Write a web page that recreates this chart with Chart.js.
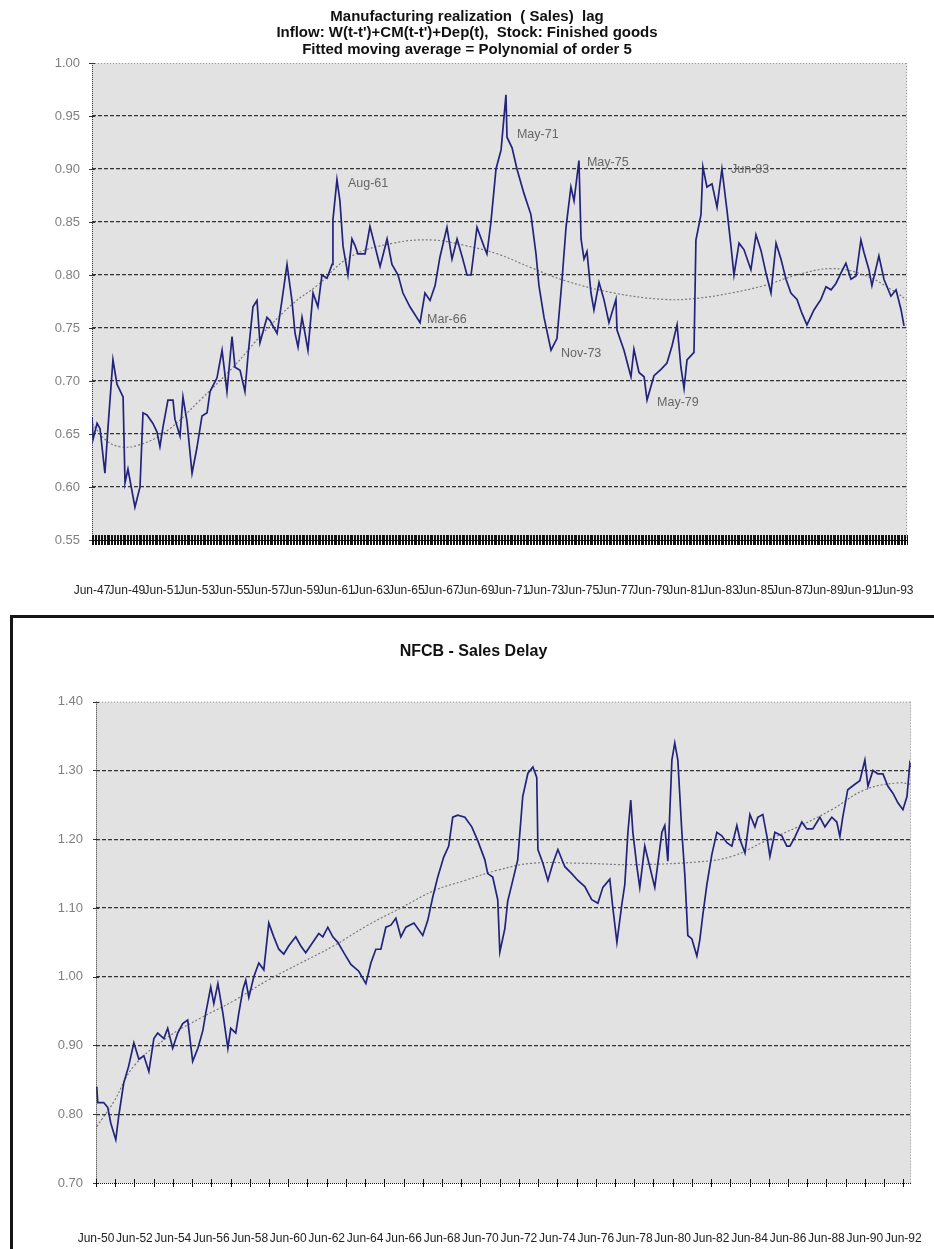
<!DOCTYPE html>
<html>
<head>
<meta charset="utf-8">
<title>Manufacturing realization / NFCB sales delay</title>
<script src="https://cdn.jsdelivr.net/npm/chart.js@4.4.1/dist/chart.umd.min.js"></script>
<style>
  html, body { margin: 0; padding: 0; background: #fff; overflow: hidden; }
  body { position: relative; width: 934px; height: 1249px; }
  #realizationChart { position: absolute; left: 0; top: 0; }
  #frame { position: absolute; left: 10px; top: 615px; width: 960px; height: 700px;
           border-left: 3px solid #151515; border-top: 3px solid #151515; }
  #delayChart { position: absolute; left: 13px; top: 618px; }
</style>
</head>
<body>
<canvas id="realizationChart" width="934" height="612"></canvas>
<div id="frame"></div>
<canvas id="delayChart" width="921" height="631"></canvas>
<script>
// Manufacturing realization (sales) lag, readings by decimal year
const realizationYears = [
  1947.49, 1947.55, 1947.78, 1947.95, 1948.23, 1948.41, 1948.69, 1948.92, 1949.27, 1949.38,
  1949.55, 1949.95, 1950.24, 1950.41, 1950.64, 1950.98, 1951.21, 1951.38, 1951.56, 1951.84,
  1952.13, 1952.24, 1952.53, 1952.70, 1952.93, 1953.22, 1953.50, 1953.79, 1954.08, 1954.25,
  1954.65, 1954.94, 1955.22, 1955.51, 1955.68, 1955.97, 1956.25, 1956.43, 1956.71, 1956.94,
  1957.11, 1957.51, 1957.69, 1958.09, 1958.37, 1958.66, 1958.94, 1959.12, 1959.29, 1959.52,
  1959.69, 1959.86, 1960.15, 1960.43, 1960.66, 1960.95, 1961.24, 1961.29, 1961.52, 1961.69,
  1961.87, 1962.15, 1962.38, 1962.55, 1962.72, 1963.13, 1963.41, 1963.70, 1963.99, 1964.39,
  1964.67, 1965.02, 1965.30, 1965.70, 1966.28, 1966.56, 1966.85, 1967.14, 1967.42, 1967.82,
  1968.11, 1968.40, 1968.68, 1968.97, 1969.20, 1969.54, 1969.94, 1970.11, 1970.34, 1970.63,
  1970.92, 1971.20, 1971.26, 1971.55, 1971.83, 1972.23, 1972.63, 1972.92, 1973.09, 1973.38,
  1973.78, 1974.12, 1974.41, 1974.64, 1974.92, 1975.10, 1975.38, 1975.50, 1975.67, 1975.84,
  1976.07, 1976.24, 1976.53, 1976.81, 1977.10, 1977.50, 1977.56, 1977.96, 1978.36, 1978.53,
  1978.82, 1979.11, 1979.28, 1979.68, 1980.08, 1980.42, 1980.71, 1981.00, 1981.22, 1981.40,
  1981.57, 1981.97, 1982.08, 1982.37, 1982.48, 1982.71, 1983.00, 1983.29, 1983.57, 1983.86,
  1984.09, 1984.26, 1984.55, 1984.83, 1985.23, 1985.52, 1985.81, 1986.09, 1986.38, 1986.67,
  1986.95, 1987.24, 1987.52, 1987.87, 1988.15, 1988.44, 1988.84, 1989.24, 1989.53, 1989.82,
  1990.10, 1990.39, 1990.67, 1990.96, 1991.25, 1991.53, 1991.71, 1991.99, 1992.16, 1992.56,
  1992.85, 1993.25, 1993.54, 1993.82, 1994.00
];
const realizationValues = [
  0.666, 0.645, 0.660, 0.655, 0.613, 0.657, 0.720, 0.697, 0.685, 0.604,
  0.617, 0.581, 0.600, 0.670, 0.668, 0.660, 0.652, 0.638, 0.657, 0.682,
  0.682, 0.664, 0.648, 0.685, 0.662, 0.613, 0.637, 0.667, 0.670, 0.690,
  0.703, 0.729, 0.690, 0.742, 0.713, 0.710, 0.690, 0.725, 0.770, 0.776,
  0.736, 0.760, 0.757, 0.745, 0.776, 0.810, 0.776, 0.745, 0.732, 0.760,
  0.745, 0.729, 0.783, 0.770, 0.800, 0.797, 0.810, 0.852, 0.890, 0.870,
  0.827, 0.800, 0.834, 0.828, 0.820, 0.820, 0.846, 0.827, 0.808, 0.834,
  0.810, 0.800, 0.783, 0.770, 0.755, 0.783, 0.776, 0.790, 0.817, 0.845,
  0.815, 0.834, 0.818, 0.800, 0.800, 0.845, 0.827, 0.820, 0.850, 0.900,
  0.918, 0.970, 0.930, 0.920, 0.900, 0.877, 0.857, 0.820, 0.790, 0.760,
  0.729, 0.740, 0.795, 0.845, 0.883, 0.870, 0.908, 0.834, 0.815, 0.822,
  0.783, 0.767, 0.793, 0.777, 0.755, 0.777, 0.748, 0.729, 0.704, 0.730,
  0.708, 0.704, 0.682, 0.705, 0.711, 0.717, 0.733, 0.753, 0.713, 0.693,
  0.720, 0.727, 0.833, 0.857, 0.902, 0.883, 0.886, 0.864, 0.900, 0.861,
  0.827, 0.800, 0.830, 0.824, 0.805, 0.838, 0.823, 0.802, 0.783, 0.830,
  0.815, 0.796, 0.783, 0.777, 0.764, 0.753, 0.767, 0.777, 0.789, 0.786,
  0.792, 0.802, 0.811, 0.796, 0.799, 0.833, 0.821, 0.805, 0.790, 0.818,
  0.796, 0.780, 0.786, 0.768, 0.752
];
// fitted moving average (polynomial of order 5)
const realizationTrendYears = [
  1947.49, 1948.23, 1949.09, 1950.24, 1951.79, 1953.68, 1955.57, 1957.28, 1959.00, 1960.38,
  1962.27, 1964.73, 1967.02, 1968.80, 1970.69, 1972.63, 1974.52, 1977.39, 1980.25, 1982.14,
  1984.09, 1985.98, 1987.87, 1989.82, 1991.71, 1993.60, 1994.17
];
const realizationTrendValues = [
  0.660, 0.645, 0.638, 0.640, 0.653, 0.682, 0.713, 0.745, 0.773, 0.790,
  0.817, 0.830, 0.833, 0.828, 0.820, 0.807, 0.795, 0.783, 0.777, 0.778,
  0.783, 0.790, 0.800, 0.806, 0.800, 0.783, 0.776
];
// named turning points, each sitting on a realization reading
const turningPointLabels = ['Aug-61', 'Mar-66', 'May-71', 'Nov-73', 'May-75', 'May-79', 'Jun-83'];
const turningPointYears = [1961.52, 1966.28, 1971.20, 1973.78, 1975.38, 1979.28, 1983.57];
const turningPointValues = [0.890, 0.755, 0.970, 0.729, 0.908, 0.682, 0.900];

// NFCB sales delay
const delayYears = [
  1950.50, 1950.55, 1950.86, 1951.07, 1951.23, 1951.49, 1951.64, 1951.90, 1952.16, 1952.43,
  1952.69, 1952.95, 1953.21, 1953.47, 1953.67, 1953.99, 1954.19, 1954.45, 1954.71, 1954.97,
  1955.23, 1955.49, 1955.76, 1956.02, 1956.17, 1956.43, 1956.59, 1956.80, 1957.06, 1957.32,
  1957.47, 1957.73, 1957.89, 1958.10, 1958.25, 1958.41, 1958.67, 1958.93, 1959.19, 1959.45,
  1959.71, 1959.97, 1960.23, 1960.49, 1960.85, 1961.11, 1961.37, 1961.74, 1962.05, 1962.26,
  1962.52, 1962.78, 1963.04, 1963.35, 1963.72, 1964.13, 1964.50, 1964.76, 1965.02, 1965.28,
  1965.54, 1965.80, 1966.06, 1966.32, 1966.58, 1967.00, 1967.46, 1967.72, 1967.98, 1968.24,
  1968.55, 1968.81, 1969.02, 1969.28, 1969.65, 1970.01, 1970.32, 1970.69, 1970.84, 1971.10,
  1971.36, 1971.47, 1971.73, 1971.88, 1972.09, 1972.40, 1972.66, 1972.93, 1973.19, 1973.39,
  1973.45, 1973.71, 1973.97, 1974.23, 1974.49, 1974.85, 1975.21, 1975.53, 1975.89, 1976.25,
  1976.57, 1976.83, 1977.19, 1977.35, 1977.56, 1977.82, 1977.97, 1978.13, 1978.28, 1978.39,
  1978.60, 1978.75, 1979.01, 1979.27, 1979.53, 1979.90, 1980.05, 1980.21, 1980.42, 1980.57,
  1980.73, 1980.94, 1981.09, 1981.25, 1981.46, 1981.72, 1981.87, 1982.03, 1982.24, 1982.50,
  1982.76, 1983.02, 1983.28, 1983.54, 1983.80, 1983.96, 1984.22, 1984.48, 1984.74, 1984.89,
  1985.15, 1985.36, 1985.52, 1985.78, 1986.14, 1986.40, 1986.56, 1986.82, 1987.18, 1987.44,
  1987.75, 1988.12, 1988.38, 1988.74, 1989.00, 1989.16, 1989.31, 1989.57, 1989.94, 1990.20,
  1990.46, 1990.62, 1990.88, 1991.14, 1991.40, 1991.66, 1991.92, 1992.18, 1992.44, 1992.65,
  1992.80, 1992.86
];
const delayValues = [
  0.840, 0.817, 0.817, 0.810, 0.787, 0.763, 0.797, 0.845, 0.870, 0.904,
  0.880, 0.885, 0.862, 0.910, 0.918, 0.910, 0.925, 0.896, 0.918, 0.932,
  0.937, 0.877, 0.896, 0.922, 0.947, 0.985, 0.961, 0.990, 0.947, 0.896,
  0.925, 0.918, 0.947, 0.981, 0.995, 0.970, 1.000, 1.020, 1.010, 1.078,
  1.058, 1.040, 1.033, 1.045, 1.058, 1.045, 1.035, 1.050, 1.063, 1.058,
  1.072, 1.058, 1.050, 1.035, 1.018, 1.008, 0.990, 1.020, 1.040, 1.040,
  1.072, 1.075, 1.085, 1.058, 1.072, 1.078, 1.060, 1.082, 1.116, 1.145,
  1.174, 1.190, 1.232, 1.235, 1.232, 1.218, 1.198, 1.170, 1.150, 1.145,
  1.112, 1.036, 1.070, 1.110, 1.134, 1.170, 1.262, 1.296, 1.305, 1.290,
  1.185, 1.165, 1.140, 1.165, 1.185, 1.160, 1.150, 1.140, 1.131, 1.112,
  1.107, 1.130, 1.142, 1.100, 1.050, 1.106, 1.134, 1.209, 1.257, 1.210,
  1.160, 1.130, 1.190, 1.160, 1.130, 1.210, 1.220, 1.168, 1.315, 1.340,
  1.315, 1.210, 1.150, 1.060, 1.055, 1.030, 1.053, 1.090, 1.134, 1.178,
  1.210, 1.205, 1.195, 1.190, 1.220, 1.200, 1.180, 1.236, 1.218, 1.232,
  1.236, 1.205, 1.175, 1.210, 1.205, 1.190, 1.190, 1.203, 1.225, 1.215,
  1.215, 1.232, 1.218, 1.232, 1.225, 1.204, 1.232, 1.272, 1.280, 1.285,
  1.315, 1.277, 1.300, 1.295, 1.295, 1.277, 1.267, 1.253, 1.243, 1.262,
  1.310, 1.305
];
const delayTrendYears = [
  1950.50, 1951.38, 1952.43, 1954.19, 1955.91, 1957.63, 1959.40, 1961.11, 1962.83, 1964.60,
  1966.32, 1968.03, 1969.65, 1971.36, 1973.13, 1975.73, 1978.34, 1981.77, 1983.54, 1985.26,
  1986.97, 1988.74, 1990.46, 1992.18, 1992.86
];
const delayTrendValues = [
  0.782, 0.818, 0.870, 0.912, 0.940, 0.965, 0.995, 1.020, 1.045, 1.075,
  1.100, 1.125, 1.140, 1.155, 1.165, 1.165, 1.163, 1.167, 1.175, 1.197,
  1.218, 1.243, 1.272, 1.282, 1.280
];

const MONTHS = ['Jan', 'Feb', 'Mar', 'Apr', 'May', 'Jun', 'Jul', 'Aug', 'Sep', 'Oct', 'Nov', 'Dec'];
const FONT = '"Liberation Sans", Arial, sans-serif';
Chart.defaults.font.family = FONT;

function monthLabel(v) {
  const yr = Math.floor(v + 1e-6);
  const mo = Math.min(11, Math.floor((v - yr) * 12 + 1e-6));
  return MONTHS[mo] + '-' + String(yr).slice(2);
}

function toPoints(xs, ys) {
  return xs.map((x, i) => ({ x: x, y: ys[i] }));
}

// ticks every `step` years starting at the axis minimum
function stepTicks(step) {
  return function (scale) {
    const ticks = [];
    for (let k = 0; scale.min + k * step <= scale.max + 1e-9; k++) {
      ticks.push({ value: scale.min + k * step });
    }
    scale.ticks = ticks;
  };
}

// fixed axis band; right inset keeps the title centred on the whole canvas
function timeAxisFit(height, right) {
  return function (s) {
    s.height = height;
    s.paddingLeft = 0;
    s.paddingRight = right;
    s.paddingTop = 0;
    s.paddingBottom = 0;
  };
}

function valueAxisFit(width) {
  return function (s) {
    s.width = width;
    s.paddingTop = 0;
    s.paddingBottom = 0;
  };
}

// grey plot area, dotted frame and tick marks crossing both axes
const plotFrame = {
  id: 'plotFrame',
  beforeDraw(chart) {
    const { ctx, chartArea: a } = chart;
    ctx.save();
    ctx.fillStyle = '#e2e2e2';
    ctx.fillRect(a.left, a.top, a.right - a.left, a.bottom - a.top);
    ctx.restore();
  },
  afterDraw(chart, args, opts) {
    const { ctx, chartArea: a, scales } = chart;
    ctx.save();
    ctx.lineWidth = 1;

    ctx.strokeStyle = '#9a9a9a';
    ctx.setLineDash([1, 2]);
    ctx.beginPath();
    ctx.moveTo(a.left, a.top + 0.5);
    ctx.lineTo(a.right, a.top + 0.5);
    ctx.moveTo(a.right - 0.5, a.top);
    ctx.lineTo(a.right - 0.5, a.bottom);
    ctx.stroke();

    ctx.strokeStyle = '#333';
    ctx.setLineDash([1, 1]);
    ctx.beginPath();
    ctx.moveTo(a.left + 0.5, a.top);
    ctx.lineTo(a.left + 0.5, a.bottom);
    ctx.stroke();

    ctx.setLineDash([]);
    ctx.beginPath();
    scales.y.ticks.forEach(t => {
      const py = Math.round(scales.y.getPixelForValue(t.value)) + 0.5;
      ctx.moveTo(a.left - 3, py);
      ctx.lineTo(a.left + 3, py);
    });
    ctx.stroke();

    ctx.strokeStyle = '#111';
    ctx.setLineDash(opts.axisDash || []);
    ctx.beginPath();
    ctx.moveTo(a.left, a.bottom + 0.5);
    ctx.lineTo(a.right, a.bottom + 0.5);
    ctx.stroke();
    ctx.setLineDash([]);
    ctx.beginPath();
    scales.x.ticks.forEach(t => {
      const px = Math.round(scales.x.getPixelForValue(t.value)) + 0.5;
      ctx.moveTo(px, a.bottom - opts.tickIn);
      ctx.lineTo(px, a.bottom + opts.tickOut);
    });
    ctx.stroke();
    ctx.restore();
  }
};

// date captions next to the turning points of the realization series
const labelOffsets = [[11, 4], [7, -3], [11, 40], [10, 3], [8, 2], [10, 2], [9, 1]];
const turningPoints = {
  id: 'turningPoints',
  afterDatasetsDraw(chart) {
    const { ctx, scales: { x, y } } = chart;
    ctx.save();
    ctx.font = '12.5px ' + FONT;
    ctx.fillStyle = '#666';
    ctx.textBaseline = 'middle';
    turningPointLabels.forEach((label, i) => {
      const px = x.getPixelForValue(turningPointYears[i]) + labelOffsets[i][0];
      const py = y.getPixelForValue(turningPointValues[i]) + labelOffsets[i][1];
      ctx.fillText(label, px, py);
    });
    ctx.restore();
  }
};

function gridColor(min, max) {
  return ctx => {
    const v = ctx.tick ? ctx.tick.value : min;
    return (v <= min + 1e-6 || v >= max - 1e-6) ? 'rgba(0,0,0,0)' : '#333';
  };
}

new Chart(document.getElementById('realizationChart'), {
  type: 'line',
  data: {
    datasets: [
      {
        data: toPoints(realizationYears, realizationValues),
        borderColor: '#23237c',
        borderWidth: 1.7,
        pointRadius: 0,
        tension: 0
      },
      {
        data: toPoints(realizationTrendYears, realizationTrendValues),
        borderColor: '#7a7a7a',
        borderWidth: 1.2,
        borderDash: [2, 2],
        pointRadius: 0,
        tension: 0.4
      }
    ]
  },
  options: {
    responsive: false,
    animation: false,
    layout: { padding: { left: 0, right: 0, top: 0, bottom: 14 } },
    plugins: {
      legend: { display: false },
      tooltip: { enabled: false },
      title: {
        display: true,
        text: [
          'Manufacturing realization  ( Sales)  lag',
          "Inflow: W(t-t')+CM(t-t')+Dep(t),  Stock: Finished goods",
          'Fitted moving average = Polynomial of order 5'
        ],
        color: '#111',
        font: { size: 15, weight: 'bold', lineHeight: 1.1 },
        padding: { top: 8.5, bottom: 5 }
      },
      plotFrame: { tickIn: 5, tickOut: 5, axisDash: [] }
    },
    scales: {
      x: {
        type: 'linear',
        min: 1947.49,
        max: 1994.17,
        afterBuildTicks: stepTicks(1 / 12),
        afterFit: timeAxisFit(58, 27),
        grid: { display: false, drawTicks: false },
        border: { display: false },
        ticks: {
          autoSkip: false,
          maxRotation: 0,
          minRotation: 0,
          padding: 43,
          color: '#222',
          font: { size: 12 },
          callback: (v, i) => (i % 24 === 0 ? monthLabel(v) : '')
        }
      },
      y: {
        min: 0.55,
        max: 1.0,
        afterFit: valueAxisFit(92),
        grid: { color: gridColor(0.55, 1.0), lineWidth: 1.2, drawTicks: false },
        border: { display: false, dash: [4, 2] },
        ticks: {
          stepSize: 0.05,
          padding: 12,
          color: '#808080',
          font: { size: 13 },
          callback: v => v.toFixed(2)
        }
      }
    }
  },
  plugins: [plotFrame, turningPoints]
});

new Chart(document.getElementById('delayChart'), {
  type: 'line',
  data: {
    datasets: [
      {
        data: toPoints(delayYears, delayValues),
        borderColor: '#23237c',
        borderWidth: 1.7,
        pointRadius: 0,
        tension: 0
      },
      {
        data: toPoints(delayTrendYears, delayTrendValues),
        borderColor: '#7a7a7a',
        borderWidth: 1.2,
        borderDash: [2, 2],
        pointRadius: 0,
        tension: 0.4
      }
    ]
  },
  options: {
    responsive: false,
    animation: false,
    layout: { padding: { left: 0, right: 0, top: 0, bottom: 3 } },
    plugins: {
      legend: { display: false },
      tooltip: { enabled: false },
      title: {
        display: true,
        text: 'NFCB - Sales Delay',
        color: '#111',
        font: { size: 16, weight: 'bold', lineHeight: 1.2 },
        padding: { top: 24.4, bottom: 40.1 }
      },
      plotFrame: { tickIn: 4, tickOut: 4, axisDash: [1, 1] }
    },
    scales: {
      x: {
        type: 'linear',
        min: 1950.46,
        max: 1992.86,
        afterBuildTicks: stepTicks(1),
        afterFit: timeAxisFit(63, 23),
        grid: { display: false, drawTicks: false },
        border: { display: false },
        ticks: {
          autoSkip: false,
          maxRotation: 0,
          minRotation: 0,
          padding: 48,
          color: '#222',
          font: { size: 12 },
          callback: (v, i) => (i % 2 === 0 ? monthLabel(v) : '')
        }
      },
      y: {
        min: 0.7,
        max: 1.4,
        afterFit: valueAxisFit(83),
        grid: { color: gridColor(0.7, 1.4), lineWidth: 1.2, drawTicks: false },
        border: { display: false, dash: [4, 2] },
        ticks: {
          stepSize: 0.1,
          padding: 13,
          color: '#808080',
          font: { size: 13 },
          callback: v => v.toFixed(2)
        }
      }
    }
  },
  plugins: [plotFrame]
});
</script>
</body>
</html>
